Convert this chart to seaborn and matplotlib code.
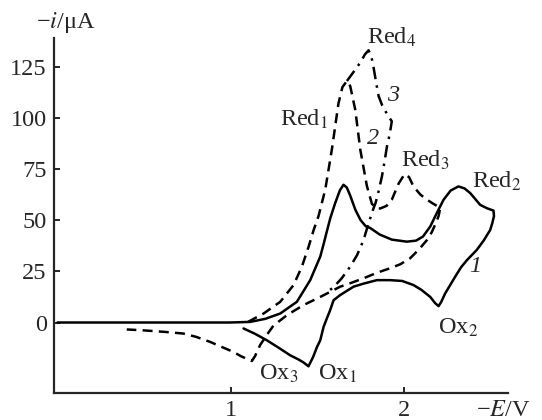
import matplotlib
matplotlib.use("Agg")
import matplotlib.pyplot as plt
import seaborn as sns

# curve 1 (solid): potential -E/V and current -i/uA
e1 = [0, 0.5, 0.996, 1.113, 1.2, 1.286, 1.382, 1.459, 1.517, 1.537, 1.555, 1.575, 1.603,
      1.63, 1.651, 1.67, 1.69, 1.72, 1.75, 1.78, 1.805, 1.86, 1.93, 2.017, 2.07, 2.11,
      2.152, 2.19, 2.229, 2.27, 2.315, 2.35, 2.383, 2.44, 2.48, 2.517, 2.52, 2.51, 2.498,
      2.46, 2.42, 2.364, 2.33, 2.296, 2.238, 2.215, 2.2, 2.18, 2.152, 2.1, 2.055, 1.99,
      1.92, 1.844, 1.767, 1.709, 1.632, 1.594, 1.574, 1.555, 1.536, 1.517, 1.498, 1.475,
      1.449, 1.42, 1.39, 1.343, 1.28, 1.209, 1.14, 1.074]
i1 = [0, 0, 0, 0.3, 1.8, 4.4, 10.1, 20.7, 32.2, 38.5, 44.5, 51, 58.3,
      64.5, 67.3, 66, 62, 55, 50, 47, 46.2, 43, 40.5, 39.5, 40, 42,
      46.9, 53.5, 60, 64.5, 66.5, 65.5, 63.2, 57.5, 55.8, 54.7, 52, 48.5, 45.2,
      40, 35.4, 30.5, 27, 22.4, 14.2, 10, 8, 9.5, 12.5, 16, 18.3, 20.3,
      20.7, 20.7, 19, 17.5, 13.4, 10.9, 6.0, 2, -2.2, -8.7, -12, -17,
      -21.4, -19.5, -18, -16, -12.5, -8.7, -5.5, -2.9]

# curve 2 (dashed)
e2 = [1.10, 1.19, 1.286, 1.363, 1.411, 1.45, 1.479, 1.507, 1.546, 1.584, 1.622, 1.645,
      1.671, 1.69, 1.719, 1.748, 1.786, 1.815, 1.84, 1.863, 1.9, 1.93, 1.97, 2.004, 2.03,
      2.055, 2.095, 2.133, 2.17, 2.21, 2.2, 2.184, 2.16, 2.133, 2.09, 2.036, 1.98, 1.92,
      1.844, 1.767, 1.7, 1.632, 1.517, 1.42, 1.325, 1.247, 1.209, 1.17, 1.14, 1.122,
      1.1, 1.06, 1.016, 0.95, 0.882, 0.8, 0.727, 0.65, 0.574, 0.49, 0.40]
i2 = [0.3, 4.4, 10.1, 18.3, 27.3, 37.1, 45.2, 52, 65, 84.5, 107, 115,
      118, 115.5, 104, 84.5, 66.8, 58, 56, 55.7, 57, 60, 68, 72.5, 71,
      66.5, 62.5, 60, 58, 56, 52, 48.5, 44, 40.3, 36, 31.4, 28.5, 26.5,
      24.3, 21.6, 19.5, 17.5, 12.5, 8.5, 3.6, -1.5, -6, -11, -16.5, -18.8,
      -18, -16.5, -14.4, -12, -9.5, -7, -5.4, -4.8, -4.3, -3.8, -3.4]

# curve 3 (dash-dot)
e3 = [1.671, 1.71, 1.748, 1.775, 1.796, 1.812, 1.825, 1.84, 1.854, 1.875, 1.905, 1.93,
      1.918, 1.902, 1.888, 1.873, 1.855, 1.836, 1.825, 1.796, 1.767, 1.73, 1.69, 1.64,
      1.593, 1.56]
i3 = [118, 122.5, 127, 131, 133, 130, 124.5, 117, 110.6, 106, 101.5, 98.3,
      92, 86, 78.5, 71.4, 64.5, 58.3, 55.9, 48.5, 40.3, 33, 27.3, 21.5,
      17.2, 15]

# peak labels: text, x, y (left edge, baseline)
peak_labels = [("Red$_4$", 1.784, 136), ("Red$_1$", 1.285, 96), ("Red$_3$", 1.984, 76.3),
               ("Red$_2$", 2.393, 65.7), ("Ox$_2$", 2.194, -5.4), ("Ox$_3$", 1.166, -28),
               ("Ox$_1$", 1.505, -28)]
curve_labels = [("3", 1.905, 108), ("2", 1.784, 87), ("1", 2.377, 24.8)]

sns.set_style("ticks")
plt.rcParams["font.family"] = ["Liberation Serif", "DejaVu Serif"]
plt.rcParams["mathtext.fontset"] = "stix"

fs = 17.5
fig = plt.figure(figsize=(5.42, 4.2), dpi=100)
ax = fig.add_axes([0.099, 0.064, 0.838, 0.8455])

lw = 1.8
sns.lineplot(x=e1, y=i1, sort=False, estimator=None, color="black", lw=lw, ax=ax)
sns.lineplot(x=e2, y=i2, sort=False, estimator=None, color="black", lw=lw,
             linestyle=(0, (4, 2.5)), ax=ax)
sns.lineplot(x=e3, y=i3, sort=False, estimator=None, color="black", lw=lw,
             linestyle=(0, (5, 2.5, 1, 2.5)), ax=ax)

ax.set_xlim(-0.022, 2.6)
ax.set_ylim(-34.5, 139)
ax.set_xticks([1, 2])
ax.set_yticks([0, 25, 50, 75, 100, 125])
ax.tick_params(direction="in", length=4.5, width=1.4, labelsize=fs, pad=5)
ax.tick_params(axis="x", pad=5)
sns.despine(ax=ax)
for s in ["left", "bottom"]:
    ax.spines[s].set_linewidth(1.6)
ax.set_xlabel("")
ax.set_ylabel("")

for txt, x, y in peak_labels:
    ax.text(x, y, txt, fontsize=fs, ha="left", va="baseline")
for txt, x, y in curve_labels:
    ax.text(x, y, txt, fontsize=fs, ha="left", va="baseline", fontstyle="italic")

ax.text(-0.122, 144, "\u2212$i$/\u03bcA", fontsize=fs, ha="left", va="baseline", clip_on=False)
ax.text(2.415, -45.5, "\u2212$E$/V", fontsize=fs, ha="left", va="baseline", clip_on=False)

fig.savefig("out.png", dpi=100)
